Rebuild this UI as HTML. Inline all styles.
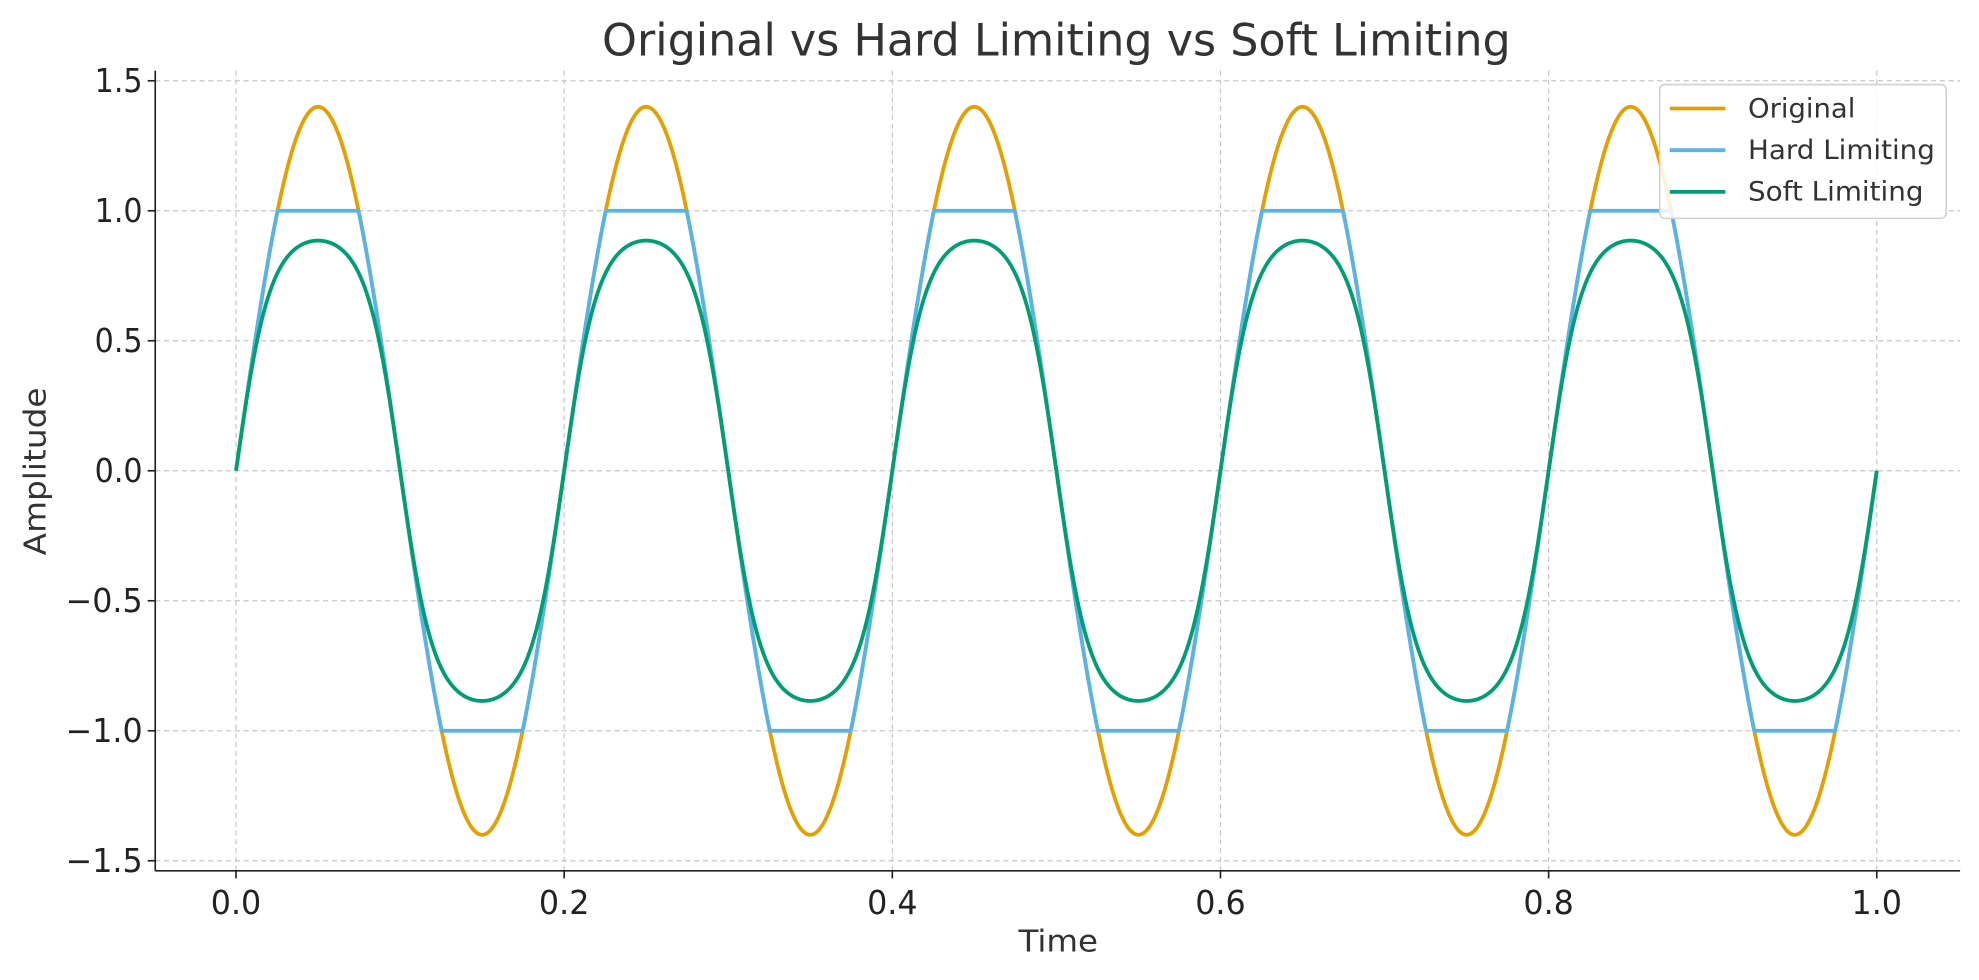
<!DOCTYPE html>
<html><head><meta charset="utf-8"><style>
html,body{margin:0;padding:0;background:#fff;}
svg{display:block;font-family:"DejaVu Sans","Liberation Sans",sans-serif;}
</style></head><body>
<svg id="s" width="1979" height="980" viewBox="0 0 1979 980" xmlns="http://www.w3.org/2000/svg">
<rect width="1979" height="980" fill="#fff"/>
<g transform="scale(1.26212)">
<g id="grid" stroke="#c8c8c8" stroke-width="1" stroke-dasharray="4,3"></g>
<g id="series" fill="none" stroke-width="3" stroke-linejoin="round"></g>
<line x1="123" y1="56" x2="123" y2="690" stroke="#222" stroke-width="1.3"/>
<line x1="123" y1="690" x2="1553" y2="690" stroke="#222" stroke-width="1.3"/>
<g id="ticks" stroke="#222" stroke-width="1.3"></g>
<g id="labels" fill="#222" font-size="26"></g>
<text x="477" y="44" font-size="35" fill="#333" textLength="720" lengthAdjust="spacingAndGlyphs">Original vs Hard Limiting vs Soft Limiting</text>
<text x="807" y="754" font-size="24" fill="#333" textLength="63" lengthAdjust="spacingAndGlyphs">Time</text>
<text x="0" y="0" font-size="24" fill="#333" textLength="133" lengthAdjust="spacingAndGlyphs" transform="translate(36 440) rotate(-90)">Amplitude</text>
<rect x="1315" y="67" width="227" height="106" rx="4" fill="#fff" fill-opacity="0.85" stroke="#d0d0d0" stroke-width="1.2"/>
<line x1="1323" y1="86" x2="1367" y2="86" stroke="#E69F00" stroke-width="3"/>
<line x1="1323" y1="119" x2="1367" y2="119" stroke="#56B4E9" stroke-width="3"/>
<line x1="1323" y1="152" x2="1367" y2="152" stroke="#009E73" stroke-width="3"/>
<text x="1385" y="93" font-size="21" fill="#333" textLength="85" lengthAdjust="spacingAndGlyphs">Original</text>
<text x="1385" y="126" font-size="21" fill="#333" textLength="148" lengthAdjust="spacingAndGlyphs">Hard Limiting</text>
<text x="1385" y="159" font-size="21" fill="#333" textLength="139" lengthAdjust="spacingAndGlyphs">Soft Limiting</text>
</g>
</svg>
<script>
var NS="http://www.w3.org/2000/svg";
function X(t){return 187+1300*t;}function Y(v){return 373-206*v;}
function el(p,tag,a,txt){var e=document.createElementNS(NS,tag);for(var k in a)e.setAttribute(k,a[k]);if(txt!==undefined)e.textContent=txt;document.getElementById(p).appendChild(e);}
for(var i=0;i<=5;i++){var t=i*0.2,x=X(t);
el("grid","line",{x1:x,y1:56,x2:x,y2:690});
el("ticks","line",{x1:x,y1:690,x2:x,y2:696});
el("labels","text",{x:x-20,y:724,textLength:40,lengthAdjust:"spacingAndGlyphs"},t.toFixed(1));}
for(var j=-3;j<=3;j++){var v=j*0.5,y=Y(v),w=v<0?61:38;
el("grid","line",{x1:123,y1:y,x2:1553,y2:y});
el("ticks","line",{x1:117,y1:y,x2:123,y2:y});
el("labels","text",{x:113-w,y:y+9,textLength:w,lengthAdjust:"spacingAndGlyphs"},(v<0?"\u2212":"")+Math.abs(v).toFixed(1));}
var fs=[[function(s){return s;},"#E69F00"],[function(s){return Math.max(-1,Math.min(1,s));},"#56B4E9"],[function(s){return Math.tanh(s);},"#009E73"]];
fs.forEach(function(f){var d="";for(var k=0;k<=2000;k++){var t=k/2000,s=1.4*Math.sin(2*Math.PI*5*t);d+=(k?"L":"M")+X(t).toFixed(2)+" "+Y(f[0](s)).toFixed(2);}
el("series","path",{d:d,stroke:f[1]});});
</script>
</body></html>
